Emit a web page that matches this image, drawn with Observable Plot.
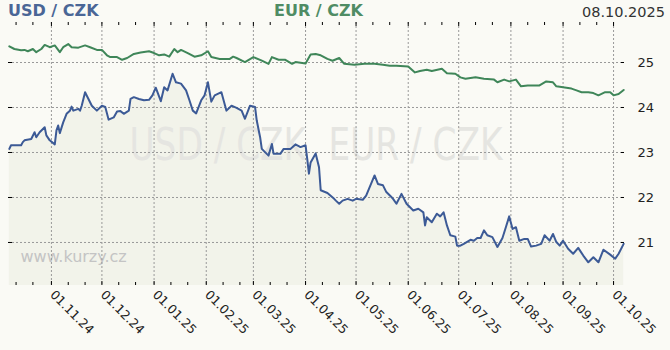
<!DOCTYPE html>
<html><head><meta charset="utf-8">
<script src="https://cdn.jsdelivr.net/npm/d3@7"></script>
<script src="https://cdn.jsdelivr.net/npm/@observablehq/plot@0.6"></script>
<style>
body{margin:0;background:#fafaf5;font-family:"DejaVu Sans",Verdana,sans-serif;}
#wrap{position:relative;width:670px;height:350px;overflow:hidden;background:#fafaf5;}
#head{position:relative;height:20px;}
#head span{position:absolute;line-height:20px;white-space:nowrap;}
.t1{left:8px;top:1px;font-weight:bold;font-size:16px;color:#4a6696;}
.t2{left:274px;top:1px;font-weight:bold;font-size:16px;color:#4f8c64;}
.t3{right:5px;top:2px;font-size:14.5px;color:#333;}
#chart svg{display:block;}
</style></head>
<body>
<div id="wrap">
  <div id="head"><span class="t1" id="n1"></span><span class="t2" id="n2"></span><span class="t3" id="dt"></span></div>
  <div id="chart"></div>
</div>
<script>
const seriesNames = ["USD / CZK", "EUR / CZK"];
const dateLabel = "08.10.2025";
const siteLabel = "www.kurzy.cz";

const usd = [
["2024-10-07",23.08],["2024-10-08",23.16],["2024-10-14",23.16],["2024-10-15",23.23],["2024-10-16",23.27],
["2024-10-20",23.30],["2024-10-22",23.45],["2024-10-23",23.34],["2024-10-25",23.45],["2024-10-28",23.56],
["2024-10-29",23.38],["2024-10-31",23.27],["2024-11-03",23.18],["2024-11-04",23.49],["2024-11-05",23.60],
["2024-11-06",23.43],["2024-11-08",23.67],["2024-11-10",23.86],["2024-11-12",23.93],["2024-11-13",24.02],
["2024-11-14",23.93],["2024-11-17",23.97],["2024-11-18",23.93],["2024-11-19",24.04],["2024-11-21",24.34],
["2024-11-23",24.19],["2024-11-25",24.04],["2024-11-28",23.93],["2024-12-01",24.04],["2024-12-03",24.01],
["2024-12-05",23.73],["2024-12-08",23.78],["2024-12-10",23.91],["2024-12-12",23.92],["2024-12-14",23.86],
["2024-12-17",23.93],["2024-12-18",24.19],["2024-12-20",24.23],["2024-12-23",24.19],["2024-12-26",24.16],
["2024-12-29",24.17],["2024-12-31",24.27],["2025-01-02",24.44],["2025-01-03",24.34],["2025-01-05",24.14],
["2025-01-07",24.45],["2025-01-09",24.38],["2025-01-12",24.75],["2025-01-14",24.56],["2025-01-17",24.53],
["2025-01-20",24.38],["2025-01-22",24.16],["2025-01-24",23.93],["2025-01-26",23.87],["2025-01-29",24.16],
["2025-01-31",24.27],["2025-02-02",24.56],["2025-02-04",24.13],["2025-02-06",24.27],["2025-02-10",24.34],
["2025-02-13",23.93],["2025-02-16",24.04],["2025-02-19",23.99],["2025-02-22",23.93],["2025-02-24",23.75],
["2025-02-27",24.04],["2025-03-02",24.01],["2025-03-03",23.71],["2025-03-05",23.34],["2025-03-06",23.08],
["2025-03-10",22.93],["2025-03-12",23.19],["2025-03-13",22.97],["2025-03-17",22.97],["2025-03-19",23.08],
["2025-03-23",23.08],["2025-03-26",23.18],["2025-03-29",23.12],["2025-04-01",23.16],["2025-04-02",22.86],
["2025-04-03",22.53],["2025-04-04",22.78],["2025-04-07",22.98],["2025-04-09",22.67],["2025-04-10",22.16],
["2025-04-14",22.10],["2025-04-18",21.97],["2025-04-19",21.93],["2025-04-21",21.86],["2025-04-23",21.93],
["2025-04-26",21.97],["2025-04-29",21.93],["2025-05-01",21.97],["2025-05-05",21.95],["2025-05-07",22.04],
["2025-05-12",22.49],["2025-05-14",22.30],["2025-05-17",22.27],["2025-05-19",22.12],["2025-05-22",22.01],
["2025-05-23",21.97],["2025-05-25",21.86],["2025-05-28",22.08],["2025-05-31",21.86],["2025-06-04",21.71],
["2025-06-07",21.75],["2025-06-10",21.67],["2025-06-11",21.38],["2025-06-12",21.56],["2025-06-15",21.45],
["2025-06-18",21.64],["2025-06-20",21.58],["2025-06-22",21.67],["2025-06-24",21.38],["2025-06-26",21.16],
["2025-06-29",21.13],["2025-06-30",20.93],["2025-07-02",20.93],["2025-07-04",20.97],["2025-07-08",21.06],
["2025-07-10",21.04],["2025-07-12",21.10],["2025-07-14",21.10],["2025-07-16",21.27],["2025-07-18",21.16],
["2025-07-21",21.12],["2025-07-24",20.90],["2025-07-27",21.10],["2025-07-29",21.34],["2025-07-31",21.58],
["2025-08-02",21.30],["2025-08-04",21.34],["2025-08-06",21.04],["2025-08-09",21.08],["2025-08-11",21.08],
["2025-08-13",20.91],["2025-08-16",20.93],["2025-08-19",20.97],["2025-08-21",21.16],["2025-08-24",21.04],
["2025-08-26",21.19],["2025-08-28",21.01],["2025-08-30",20.93],["2025-09-01",21.04],["2025-09-04",20.86],
["2025-09-07",20.75],["2025-09-10",20.88],["2025-09-13",20.71],["2025-09-16",20.56],["2025-09-19",20.67],
["2025-09-22",20.56],["2025-09-25",20.84],["2025-09-29",20.73],["2025-10-02",20.64],["2025-10-04",20.75],
["2025-10-07",20.97]
];

const eur = [
["2024-10-07",25.36],["2024-10-10",25.30],["2024-10-14",25.27],["2024-10-16",25.28],["2024-10-18",25.25],
["2024-10-21",25.30],["2024-10-23",25.23],["2024-10-26",25.30],["2024-10-28",25.39],["2024-10-31",25.34],
["2024-11-03",25.38],["2024-11-06",25.23],["2024-11-08",25.34],["2024-11-11",25.41],["2024-11-13",25.34],
["2024-11-17",25.33],["2024-11-21",25.38],["2024-11-24",25.34],["2024-11-28",25.28],["2024-12-01",25.28],
["2024-12-04",25.16],["2024-12-06",25.12],["2024-12-10",25.12],["2024-12-13",25.06],["2024-12-16",25.10],
["2024-12-20",25.19],["2024-12-24",25.22],["2024-12-29",25.25],["2025-01-01",25.21],["2025-01-04",25.16],
["2025-01-07",25.18],["2025-01-10",25.13],["2025-01-13",25.30],["2025-01-15",25.23],["2025-01-17",25.28],
["2025-01-21",25.21],["2025-01-25",25.13],["2025-01-29",25.16],["2025-02-02",25.25],["2025-02-04",25.12],
["2025-02-09",25.08],["2025-02-15",25.08],["2025-02-17",25.13],["2025-02-19",25.10],["2025-02-24",25.01],
["2025-03-01",25.12],["2025-03-06",25.04],["2025-03-10",24.97],["2025-03-12",25.12],["2025-03-16",25.06],
["2025-03-20",25.06],["2025-03-24",24.97],["2025-03-26",25.01],["2025-04-01",24.98],["2025-04-04",25.18],
["2025-04-07",25.19],["2025-04-10",25.16],["2025-04-14",25.08],["2025-04-17",25.04],["2025-04-21",25.10],
["2025-04-24",24.97],["2025-04-30",24.95],["2025-05-06",24.97],["2025-05-12",24.97],["2025-05-17",24.95],
["2025-05-21",24.93],["2025-05-25",24.93],["2025-06-01",24.91],["2025-06-05",24.78],["2025-06-08",24.81],
["2025-06-12",24.84],["2025-06-15",24.81],["2025-06-21",24.86],["2025-06-24",24.76],["2025-06-29",24.75],
["2025-07-02",24.67],["2025-07-05",24.64],["2025-07-11",24.67],["2025-07-16",24.64],["2025-07-22",24.62],
["2025-07-24",24.56],["2025-07-28",24.62],["2025-07-31",24.58],["2025-08-04",24.62],["2025-08-07",24.47],
["2025-08-11",24.49],["2025-08-18",24.49],["2025-08-22",24.58],["2025-08-26",24.56],["2025-08-28",24.47],
["2025-09-01",24.45],["2025-09-06",24.42],["2025-09-09",24.38],["2025-09-12",24.34],["2025-09-16",24.34],
["2025-09-19",24.32],["2025-09-22",24.27],["2025-09-26",24.34],["2025-09-29",24.34],["2025-10-01",24.27],
["2025-10-04",24.30],["2025-10-07",24.39]
];

const yTicks = [21, 22, 23, 24, 25];
const monthTicks = ["2024-11-01","2024-12-01","2025-01-01","2025-02-01","2025-03-01","2025-04-01",
  "2025-05-01","2025-06-01","2025-07-01","2025-08-01","2025-09-01","2025-10-01"];
const monthLabels = ["01.11.24","01.12.24","01.01.25","01.02.25","01.03.25","01.04.25",
  "01.05.25","01.06.25","01.07.25","01.08.25","01.09.25","01.10.25"];
const xDomain = ["2024-10-06T12:00Z", "2025-10-07T12:00Z"];
const yDomain = [20.044, 25.889];

document.getElementById("n1").textContent = seriesNames[0];
document.getElementById("n2").textContent = seriesNames[1];
document.getElementById("dt").textContent = dateLabel;

const toRows = a => a.map(([d, v]) => ({date: new Date(d), v}));
const usdRows = toRows(usd), eurRows = toRows(eur);
const majors = monthTicks.map(d => new Date(d));
const xd = xDomain.map(d => new Date(d));
const minors = d3.utcDay.range(xd[0], xd[1]).filter(d => [11, 21].includes(d.getUTCDate()));

const W = 670, H = 330, mL = 8, mR = 46, mT = 2, mB = 65;
const iw = W - mL - mR, ih = H - mT - mB;
const grid = {stroke: "#999", strokeWidth: 1, strokeDasharray: "2,2"};

const svg = Plot.plot({
  width: W, height: H,
  marginLeft: mL, marginRight: mR, marginTop: mT, marginBottom: mB,
  style: {background: "transparent", fontFamily: "DejaVu Sans, Verdana, sans-serif", overflow: "visible"},
  x: {type: "utc", domain: xd, axis: null},
  y: {domain: yDomain, axis: null},
  marks: [
    Plot.areaY(usdRows, {x: "date", y1: yDomain[0], y2: "v", fill: "#f2f3ea"}),
    Plot.text([seriesNames[0]], {text: d => d, frameAnchor: "top-left", textAnchor: "start", lineAnchor: "top",
      dx: 121, dy: 106, fontSize: 44, fill: "#e5e5e1"}),
    Plot.text([seriesNames[1]], {text: d => d, frameAnchor: "top-left", textAnchor: "start", lineAnchor: "top",
      dx: 320, dy: 106, fontSize: 44, fill: "#e5e5e1"}),
    Plot.text([siteLabel], {text: d => d, frameAnchor: "top-left", textAnchor: "start", lineAnchor: "top",
      dx: 12, dy: 228, fontSize: 16, fill: "#c4c4c4"}),
    Plot.ruleY(yTicks, {y: d => d, ...grid}),
    Plot.ruleX(majors, {x: d => d, ...grid}),
    Plot.ruleX(majors, {x: d => d, stroke: "#000", insetTop: ih - 4}),
    Plot.ruleX(minors, {x: d => d, stroke: "#000", insetTop: ih - 3}),
    Plot.ruleX(majors, {x: d => d, stroke: "#000", insetBottom: ih - 4}),
    Plot.ruleX(minors, {x: d => d, stroke: "#000", insetBottom: ih - 3}),
    Plot.ruleY(yTicks, {y: d => d, stroke: "#000", insetRight: iw - 4}),
    Plot.ruleY(yTicks, {y: d => d, stroke: "#000", insetLeft: iw - 3}),
    Plot.line(eurRows, {x: "date", y: "v", stroke: "#3f8659", strokeWidth: 2}),
    Plot.line(usdRows, {x: "date", y: "v", stroke: "#3c5a96", strokeWidth: 2}),
    Plot.text(yTicks, {y: d => d, text: d => String(d), frameAnchor: "right", textAnchor: "start",
      dx: 13, fontSize: 13, fill: "#222"}),
    Plot.text(majors, {x: d => d, text: (d, i) => monthLabels[i], frameAnchor: "bottom", textAnchor: "start",
      rotate: 45, dx: -2, dy: 10, fontSize: 12.5, fill: "#222"})
  ]
});
document.getElementById("chart").append(svg);

// horizontally condense the background watermark texts
svg.querySelectorAll("text").forEach(t => {
  if (seriesNames.includes(t.textContent)) {
    const s = 0.78;
    const tr = t.getAttribute("transform");
    if (tr) t.setAttribute("transform", tr + ` scale(${s},1)`);
    else {
      const x0 = +t.getAttribute("x") || 0, y0 = +t.getAttribute("y") || 0;
      t.setAttribute("transform", `translate(${x0},${y0}) scale(${s},1) translate(${-x0},${-y0})`);
    }
  }
});
</script>
</body></html>
